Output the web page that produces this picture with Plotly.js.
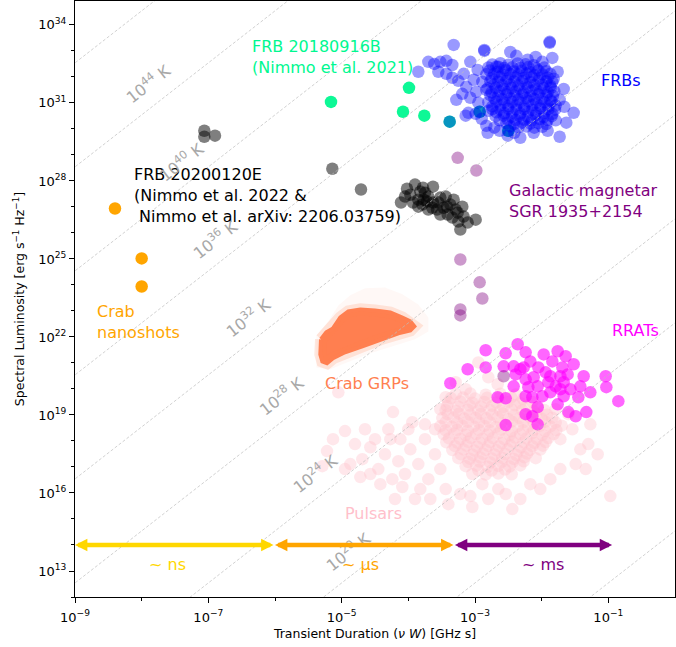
<!DOCTYPE html>
<html><head><meta charset="utf-8">
<script src="https://cdn.plot.ly/plotly-3.0.1.min.js"></script>
<style>html,body{margin:0;padding:0;background:#fff}#chart{width:676px;height:647px}</style>
</head><body><div id="chart"></div>
<script>
// ---- Data (log10 of transient duration [GHz s] and spectral luminosity [erg/s/Hz]) ----
const frbLogDur = [-3.32,-2.86,-2.86,-1.88,-1.88,-3.70,-3.61,-3.52,-3.43,-3.34,-3.85,-3.55,-3.43,-3.34,-3.25,-3.17,-3.07,-3.13,-3.02,-2.96,-2.89,-2.83,-3.28,-3.19,-3.07,-2.98,-2.95,-3.10,-3.14,-2.99,-2.90,-2.83,-2.80,-2.71,-2.81,-2.63,-2.51,-2.41,-3.38,-2.93,-2.50,-1.67,-1.52,-1.63,-1.73,-1.99,-1.84,-1.76,-1.73,-1.66,-1.91,-2.12,-2.32,-2.65,-2.47,-2.38,-2.21,-2.09,
 -2.74,-2.62,-2.50,-2.36,-2.24,-2.12,
 -2.78,-2.66,-2.54,-2.42,-2.30,-2.18,-2.05,-1.93,
 -2.75,-2.63,-2.51,-2.39,-2.27,-2.15,-2.03,-1.91,-1.82,
 -2.71,-2.59,-2.47,-2.35,-2.23,-2.11,-1.99,-1.87,
 -2.75,-2.63,-2.51,-2.39,-2.27,-2.15,-2.03,-1.91,-1.81,
 -2.71,-2.59,-2.47,-2.35,-2.23,-2.11,-1.99,-1.87,
 -2.74,-2.62,-2.50,-2.38,-2.26,-2.14,-2.02,-1.90,-1.79,
 -2.68,-2.56,-2.44,-2.32,-2.20,-2.08,-1.96,-1.84,
 -2.63,-2.51,-2.39,-2.27,-2.15,-2.03,-1.91,-1.79,
 -2.47,-2.35,-2.23,-2.11,-1.99,
 -2.80,-2.68,-2.56,-2.44,-2.32,-2.20,-2.08,-1.96,
 -2.83,-2.71,-2.59,-2.47,-2.35,-2.23,-2.11,-1.99,-1.87,
 -2.77,-2.65,-2.53,-2.41,-2.29,-2.17,-2.05,-1.93,-1.84,
 -2.81,-2.69,-2.57,-2.45,-2.33,-2.21,-2.09,-1.97,-1.86,
 -2.77,-2.65,-2.53,-2.41,-2.29,-2.17,-2.05,-1.93,-1.83,
 -2.80,-2.68,-2.56,-2.44,-2.32,-2.20,-2.08,-1.96,-1.85,
 -2.74,-2.62,-2.50,-2.38,-2.26,-2.14,-2.02,-1.90,-1.80,
 -2.69,-2.57,-2.45,-2.33,-2.21,-2.09,-1.97,-1.85,
 -2.53,-2.41,-2.29,-2.17,-2.05,-1.93];
const frbLogLum = [33.23,33.04,33.00,33.35,33.31,32.58,32.50,32.58,32.62,32.46,32.20,32.20,32.12,31.97,31.85,32.12,32.58,31.62,31.89,32.27,31.81,31.50,31.12,31.35,31.20,31.43,31.01,30.62,30.51,30.58,30.39,30.12,30.70,30.05,29.85,29.93,29.74,29.85,30.28,30.66,29.93,31.54,30.62,30.24,29.70,32.58,32.73,32.20,31.12,30.85,29.93,29.85,29.66,32.39,32.96,32.81,32.66,32.77,
 32.48,32.53,32.47,32.52,32.49,32.45,
 32.25,32.20,32.26,32.21,32.24,32.19,32.25,32.22,
 31.95,31.99,31.94,31.98,31.96,32.00,31.95,31.97,31.93,
 31.72,31.68,31.71,31.67,31.73,31.69,31.70,31.66,
 31.41,31.45,31.42,31.44,31.40,31.46,31.43,31.41,31.44,
 31.18,31.14,31.17,31.13,31.19,31.15,31.16,31.12,
 30.87,30.91,30.88,30.90,30.86,30.92,30.89,30.87,30.90,
 30.64,30.60,30.63,30.59,30.65,30.61,30.62,30.58,
 30.33,30.37,30.34,30.36,30.32,30.38,30.35,30.33,
 30.10,30.06,30.09,30.05,30.08,
 32.36,32.39,32.34,32.37,32.35,32.38,32.33,32.36,
 32.10,32.12,32.08,32.11,32.09,32.13,32.07,32.10,32.12,
 31.83,31.81,31.85,31.82,31.84,31.80,31.86,31.83,31.81,
 31.56,31.58,31.54,31.57,31.55,31.59,31.53,31.56,31.58,
 31.30,31.28,31.32,31.29,31.31,31.27,31.33,31.30,31.28,
 31.03,31.05,31.01,31.04,31.02,31.06,31.00,31.03,31.05,
 30.76,30.74,30.78,30.75,30.77,30.73,30.79,30.76,30.74,
 30.49,30.51,30.47,30.50,30.48,30.52,30.46,30.49,
 30.22,30.20,30.24,30.21,30.23,30.19];

const pulsarLogDur = [-5.05,-4.95,-5.22,-5.29,-4.23,-3.94,-4.80,-4.69,-4.57,-4.45,-4.35,-4.27,-4.15,-4.05,-3.97,-3.85,-3.75,-3.70,-3.60,-3.52,-3.44,-3.82,-4.09,-4.24,-4.42,-4.57,-4.72,-4.87,-3.90,-3.67,-3.40,-3.22,-3.07,-2.44,-2.80,-2.65,-2.89,-4.65,-4.50,-4.30,-4.12,-4.00,-3.75,-3.60,-3.52,-3.44,-3.29,-3.14,-2.95,-2.80,-2.66,-1.72,-1.54,-1.42,-1.30,-1.49,-1.72,-1.87,-2.02,-2.17,-0.97,-1.60,-1.79,-1.27,-2.32,-2.54,-1.34,-1.16,-4.20,-3.04,-4.95,-5.13,
 -3.29,-3.07,-2.84,-2.62,-2.39,
 -3.40,-3.22,-3.04,-2.86,-2.68,-2.50,-2.32,-2.14,
 -3.44,-3.28,-3.11,-2.95,-2.78,-2.62,-2.45,-2.29,-2.12,-1.96,
 -3.49,-3.32,-3.16,-2.99,-2.83,-2.66,-2.50,-2.33,-2.17,-2.00,-1.84,
 -3.52,-3.35,-3.19,-3.02,-2.86,-2.69,-2.53,-2.36,-2.20,-2.03,-1.87,-1.70,
 -3.47,-3.31,-3.14,-2.98,-2.81,-2.65,-2.48,-2.32,-2.15,-1.99,-1.82,
 -3.43,-3.26,-3.10,-2.93,-2.77,-2.60,-2.44,-2.27,-2.11,-1.94,
 -3.34,-3.17,-3.01,-2.84,-2.68,-2.51,-2.35,-2.18,-2.02,
 -3.25,-3.08,-2.92,-2.75,-2.59,-2.42,-2.26,-2.09,
 -3.14,-2.98,-2.81,-2.65,-2.48,-2.32,
 -3.04,-2.84,-2.65,-2.45,
 -3.36,-3.18,-3.00,-2.82,-2.64,-2.46,-2.28,
 -3.42,-3.25,-3.08,-2.91,-2.74,-2.57,-2.40,-2.23,-2.06,
 -3.41,-3.24,-3.07,-2.91,-2.74,-2.58,-2.41,-2.25,-2.08,-1.92,
 -3.44,-3.27,-3.11,-2.94,-2.78,-2.61,-2.45,-2.28,-2.12,-1.95,-1.79,
 -3.44,-3.27,-3.11,-2.94,-2.78,-2.61,-2.45,-2.28,-2.12,-1.95,-1.78,
 -3.39,-3.22,-3.06,-2.89,-2.73,-2.56,-2.40,-2.23,-2.07,-1.90,
 -3.30,-3.13,-2.97,-2.80,-2.64,-2.47,-2.31,-2.14,-1.98,
 -3.21,-3.04,-2.88,-2.71,-2.55,-2.38,-2.22,
 -3.10,-2.93,-2.77,-2.60,-2.44,-2.27,
 -2.95,-2.75,-2.55];
const pulsarLogLum = [19.87,18.38,17.61,17.03,19.11,18.72,17.88,17.30,17.76,16.92,17.49,18.07,17.22,16.73,17.68,17.11,18.07,16.53,17.49,16.92,16.15,16.15,16.23,16.53,16.34,16.73,16.61,17.11,15.77,15.77,15.57,15.96,15.88,15.38,15.77,16.15,16.34,18.45,18.07,18.45,18.07,18.45,18.64,18.45,19.22,19.68,20.26,19.99,21.02,20.45,20.18,18.07,18.45,17.68,17.88,17.11,16.92,16.53,16.15,16.34,15.88,19.03,19.22,18.64,15.77,15.96,16.92,17.49,15.77,15.46,16.92,18.07,
 19.80,19.83,19.78,19.82,19.79,
 19.49,19.52,19.47,19.50,19.48,19.51,19.46,19.50,
 19.18,19.15,19.20,19.17,19.19,19.16,19.21,19.18,19.15,19.19,
 18.88,18.90,18.86,18.89,18.87,18.91,18.85,18.88,18.90,18.86,18.89,
 18.57,18.55,18.59,18.56,18.58,18.54,18.60,18.57,18.55,18.58,18.56,18.59,
 18.26,18.28,18.24,18.27,18.25,18.29,18.23,18.26,18.28,18.24,18.27,
 17.95,17.93,17.97,17.94,17.96,17.92,17.98,17.95,17.93,17.96,
 17.65,17.67,17.63,17.66,17.64,17.68,17.62,17.65,17.67,
 17.34,17.32,17.36,17.33,17.35,17.31,17.37,17.34,
 17.03,17.05,17.01,17.04,17.02,17.06,
 16.73,16.71,16.75,16.72,
 19.65,19.67,19.63,19.66,19.64,19.68,19.62,
 19.34,19.32,19.36,19.33,19.35,19.31,19.37,19.34,19.32,
 19.03,19.05,19.01,19.04,19.02,19.06,19.00,19.03,19.05,19.01,
 18.72,18.70,18.74,18.71,18.73,18.69,18.75,18.72,18.70,18.74,18.71,
 18.41,18.43,18.39,18.42,18.40,18.44,18.38,18.41,18.43,18.39,18.42,
 18.10,18.08,18.12,18.09,18.11,18.07,18.13,18.10,18.08,18.11,
 17.80,17.82,17.78,17.81,17.79,17.83,17.77,17.80,17.82,
 17.49,17.47,17.51,17.48,17.50,17.46,17.52,
 17.19,17.21,17.17,17.20,17.18,17.22,
 16.88,16.86,16.90];

const rratLogDur = [-2.84,-2.54,-2.36,-2.24,-3.11,-2.84,-3.37,-2.57,-2.42,-2.32,-2.17,-2.05,-1.84,-1.76,-1.64,-1.52,-1.69,-2.42,-2.24,-2.12,-1.90,-1.72,-1.61,-1.37,-1.04,-1.03,-1.27,-1.42,-1.57,-1.72,-1.87,-1.99,-2.14,-2.24,-2.66,-2.54,-2.06,-1.60,-1.49,-1.33,-0.85,-2.24,-2.14,-2.06,-2.54,-2.27,-1.94,-2.06,-1.79,-1.67,-1.87,-1.67,-1.97,-2.39,-2.20,-1.45,-1.76];
const rratLogLum = [21.49,21.37,21.72,21.41,20.76,20.83,20.22,20.87,20.87,20.76,21.06,20.83,21.06,21.45,21.26,20.95,20.83,20.10,20.37,20.45,20.26,20.49,20.56,20.49,20.49,20.07,19.87,20.10,19.99,19.99,19.87,19.72,19.68,19.72,19.68,19.64,19.30,19.11,18.95,19.11,19.53,19.03,18.95,18.64,18.61,20.83,20.64,20.10,20.10,20.26,20.49,19.72,21.33,20.56,20.07,19.68,19.41];

const frb20200120eLogDur = [-4.02,-3.90,-4.11,-3.97,-3.63,-3.75,-3.85,-3.93,-3.72,-3.63,-3.52,-3.44,-3.57,-3.47,-3.37,-3.32,-3.26,-3.19,-3.17,-3.25,-3.22,-3.11,-2.99,-3.64,-3.79,-3.41,-3.34,-3.52,-3.70,-3.82,-4.05,-3.78,-3.85,-3.70,-3.42,-3.55,-3.77,-3.29,-7.06,-7.06,-6.90,-5.14,-4.71];
const frb20200120eLogLum = [27.70,27.86,27.17,27.47,27.78,27.55,27.28,27.17,27.21,27.17,27.36,27.40,26.90,26.97,27.09,27.28,26.78,27.01,26.63,26.44,26.13,26.40,26.51,26.97,27.09,26.71,26.59,26.71,27.40,27.59,27.40,27.74,27.01,26.90,27.01,27.17,27.28,26.90,29.93,29.70,29.74,28.47,27.67];

const magnetarLogDur = [-3.26,-2.98,-3.22,-2.93,-2.89,-3.22,-3.22,-2.57];
const magnetarLogLum = [28.89,28.40,24.98,24.10,23.48,23.06,22.83,20.49];

const frb20180916bLogDur = [-5.16,-3.99,-4.08,-3.76,-3.38,-2.93,-2.50];
const frb20180916bLogLum = [31.04,31.58,30.66,30.51,30.28,30.66,29.93];

const nanoshotLogDur = [-8.40,-8.00,-8.00];
const nanoshotLogLum = [26.94,25.02,23.94];

// Crab giant pulses: outline of the dense cloud and its faint halo
const crabGrpLogDur = [-5.31,-5.23,-5.13,-5.02,-4.90,-4.72,-4.50,-4.27,-4.09,-3.97,-3.91,-3.97,-4.15,-4.42,-4.69,-4.95,-5.13,-5.22,-5.29,-5.32,-5.32,-5.31];
const crabGrpLogLum = [21.91,22.18,22.33,22.75,22.98,23.06,23.02,22.94,22.75,22.60,22.41,22.25,22.14,21.91,21.64,21.41,21.18,20.99,21.06,21.33,21.72,21.91];
const crabHaloLogDur = [-5.38,-5.20,-5.05,-4.87,-4.65,-4.35,-4.09,-3.85,-3.70,-3.70,-3.90,-4.20,-4.57,-4.95,-5.17,-5.38,-5.38];
const crabHaloLogLum = [22.06,22.60,23.21,23.60,23.87,23.90,23.64,23.25,22.75,22.21,21.91,21.68,21.37,20.99,20.76,20.83,22.06];

// Brightness-temperature reference lines and labels (log10 T / K)
const tempLinesLogT = [11,15,19,23,27,31,35,39,43,47];
const tempLabelLogT = [44,40,36,32,28,24,20];
const tempLabelLogDur = [-7.9,-7.4,-6.9,-6.4,-5.9,-5.4,-4.9];

// Timescale arrows
const timescaleBounds = [1e-9, 1e-6, 5e-4, 0.12];
const timescaleLabels = ['~ ns', '~ μs', '~ ms'];
const arrowLevel = 1e14;

// ---- Build ----
const p10 = a => a.map(v => Math.pow(10, v));
const C_TB = Math.log10(8 * Math.PI * 1.380649e-16 * 1e18);
const FONT = 'DejaVu Sans, Verdana, sans-serif';

function pts(dx, dy, color, opacity, size) {
  return {type:'scatter', mode:'markers', x:p10(dx), y:p10(dy), hoverinfo:'skip',
    marker:{size:size||12.5, color:color, opacity:opacity, line:{width:0}}};
}

const lx = [], ly = [];
tempLinesLogT.forEach(t => {
  [-10, 1].forEach(e => { lx.push(Math.pow(10, e)); ly.push(Math.pow(10, t + 2*e + C_TB)); });
  lx.push(null); ly.push(null);
});

const traces = [
  {type:'scatter', mode:'lines', x:p10(crabHaloLogDur), y:p10(crabHaloLogLum), fill:'toself',
   fillcolor:'rgba(255,127,80,0.05)', line:{color:'rgba(255,127,80,0)', width:0}, hoverinfo:'skip'},
  pts(pulsarLogDur, pulsarLogLum, '#FFC0CB', 0.38),
  {type:'scatter', mode:'lines', x:p10(crabGrpLogDur), y:p10(crabGrpLogLum), fill:'toself',
   fillcolor:'#FF7F50', line:{color:'rgba(255,127,80,0.18)', width:12}, hoverinfo:'skip'},
  {type:'scatter', mode:'lines', x:p10(crabGrpLogDur), y:p10(crabGrpLogLum),
   line:{color:'#FF7F50', width:4}, hoverinfo:'skip'},
  pts(rratLogDur, rratLogLum, '#FF00FF', 0.6),
  pts(magnetarLogDur, magnetarLogLum, '#800080', 0.4),
  pts(frb20200120eLogDur, frb20200120eLogLum, '#000000', 0.5),
  pts(frb20180916bLogDur, frb20180916bLogLum, '#00F890', 0.95),
  pts(frbLogDur, frbLogLum, '#0000FF', 0.4),
  pts(nanoshotLogDur, nanoshotLogLum, '#FFA500', 1),
  {type:'scatter', mode:'lines', x:lx, y:ly, connectgaps:false, hoverinfo:'skip',
   line:{color:'#bdbdbd', width:0.7, dash:'3px,2px'}}
];

const PX = x => (x - 75) / 600, PY = y => (597 - y) / 596;
function txt(text, x, y, color) {
  return {xref:'paper', yref:'paper', x:PX(x), y:PY(y), xanchor:'left', yanchor:'middle', align:'left',
    text:text, showarrow:false, font:{family:FONT, size:16, color:color}};
}

const annotations = [
  txt('FRB 20180916B<br>(Nimmo et al. 2021)', 250, 57, '#00F890'),
  txt('FRBs', 599, 80, '#0000FF'),
  txt('FRB 20200120E<br>(Nimmo et al. 2022 &amp;<br>\u00A0Nimmo et al. arXiv: 2206.03759)', 132, 195, '#000000'),
  txt('Galactic magnetar<br>SGR 1935+2154', 507, 201, '#800080'),
  txt('Crab<br>nanoshots', 95, 322, '#FFA500'),
  txt('RRATs', 610, 331, '#FF00FF'),
  txt('Crab GRPs', 323, 384, '#FF7F50'),
  txt('Pulsars', 343, 513, '#FFC0CB'),
  txt(timescaleLabels[0], 147, 564, '#FFD700'),
  txt(timescaleLabels[1], 340, 564, '#FFA500'),
  txt(timescaleLabels[2], 520, 564, '#800080')
];
tempLabelLogT.forEach((t, i) => {
  const d = tempLabelLogDur[i];
  annotations.push({xref:'x', yref:'y', x:d, y:t + 2*d + C_TB, text:'10<sup>' + t + '</sup> K',
    textangle:-38, showarrow:false, font:{family:FONT, size:16, color:'#a8a8a8'}});
});
const arrowColors = ['#FFD700', '#FFA500', '#800080'];
for (let i = 0; i < 3; i++) {
  annotations.push({xref:'x', yref:'y', axref:'x', ayref:'y',
    x:Math.log10(timescaleBounds[i]), y:Math.log10(arrowLevel),
    ax:Math.log10(timescaleBounds[i+1]), ay:Math.log10(arrowLevel),
    text:'', showarrow:true, arrowside:'end+start', arrowhead:2, startarrowhead:2,
    arrowsize:0.55, startarrowsize:0.55, arrowwidth:4.5, arrowcolor:arrowColors[i],
    standoff:0, startstandoff:0});
}

const sup = n => '10<sup>' + (n < 0 ? '\u2212' + (-n) : n) + '</sup>';
const xMajor = [-9,-7,-5,-3,-1], xMinor = [-8,-6,-4,-2];
const yMajor = [13,16,19,22,25,28,31,34];
const yMinor = [12,14,15,17,18,20,21,23,24,26,27,29,30,32,33];

const axisCommon = {type:'log', showgrid:false, zeroline:false, showline:true, linecolor:'#000', linewidth:1,
  mirror:true, ticks:'outside', ticklen:5, tickwidth:1, tickcolor:'#000',
  tickfont:{family:FONT, size:13, color:'#000'}};

const layout = {
  width:676, height:647, margin:{l:75, r:1, t:1, b:50},
  paper_bgcolor:'#fff', plot_bgcolor:'#fff', showlegend:false,
  xaxis: Object.assign({}, axisCommon, {range:[-9, 0], ticklabelstandoff:3,
    tickmode:'array', tickvals:p10(xMajor), ticktext:xMajor.map(sup),
    minor:{tickmode:'array', tickvals:p10(xMinor), ticks:'outside', ticklen:3, tickwidth:1, tickcolor:'#000', showgrid:false},
    title:{text:'Transient Duration (<i>ν W</i>) [GHz s]', font:{family:FONT, size:12.5, color:'#000'}, standoff:5}}),
  yaxis: Object.assign({}, axisCommon, {range:[12, 34.92],
    tickmode:'array', tickvals:p10(yMajor), ticktext:yMajor.map(sup),
    minor:{tickmode:'array', tickvals:p10(yMinor), ticks:'outside', ticklen:3, tickwidth:1, tickcolor:'#000', showgrid:false},
    title:{text:'Spectral Luminosity [erg s<sup>\u22121</sup> Hz<sup>\u22121</sup>]', font:{family:FONT, size:12.5, color:'#000'}, standoff:10}}),
  annotations:annotations
};

Plotly.newPlot('chart', traces, layout, {displayModeBar:false, staticPlot:true});
</script>
</body></html>
